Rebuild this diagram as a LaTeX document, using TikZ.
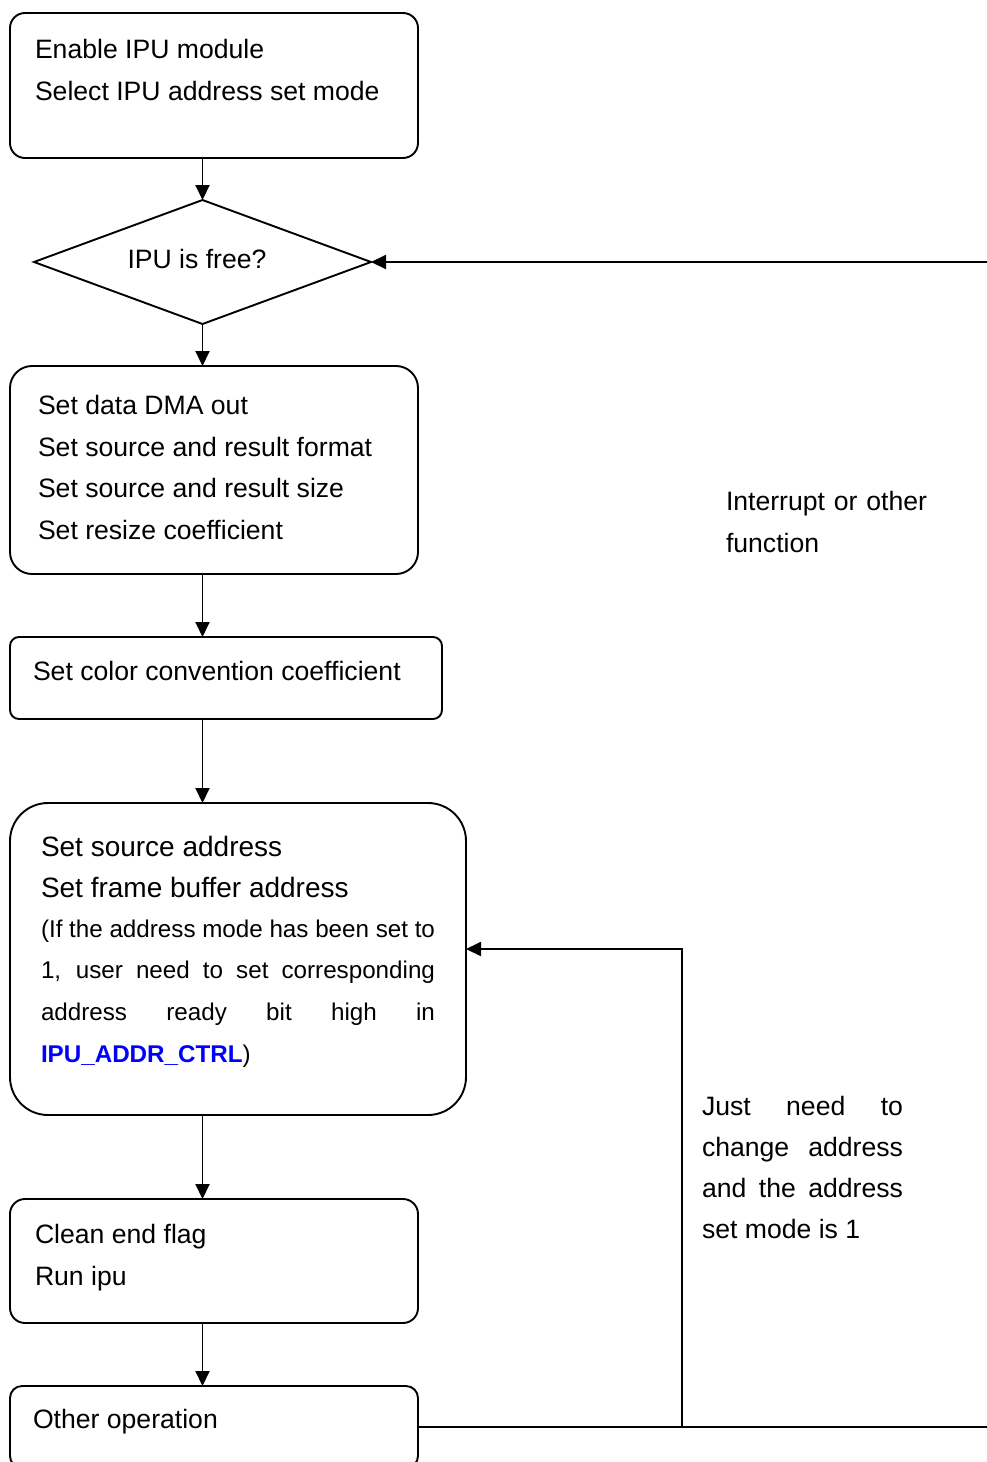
\documentclass[tikz,border=0pt]{standalone}
\usepackage{fontspec}
\setmainfont{Liberation Sans}
\usetikzlibrary{arrows.meta,shapes.geometric}
\definecolor{regblue}{RGB}{0,0,255}
\begin{document}
\begin{tikzpicture}[x=1pt,y=-1pt,
  box/.style={draw, line width=1.9pt, rectangle, anchor=north west, inner sep=0pt, outer sep=0pt},
  flow/.style={line width=1.9pt, -{Triangle[length=15pt,width=14pt]}},
  plain/.style={line width=1.9pt},
  txt/.style={anchor=base west, inner sep=0pt, outer sep=0pt, font=\fontsize{26.6}{41.7}\selectfont},
  big/.style={anchor=base west, inner sep=0pt, outer sep=0pt, font=\fontsize{28}{41}\selectfont},
  para/.style={anchor=base west, inner sep=0pt, outer sep=0pt, align=justify}
]
\clip (0,0) rectangle (987,1462);
\fill[white] (0,0) rectangle (987,1462);

% boxes
\node[box, rounded corners=15pt, minimum width=408pt, minimum height=145pt] (b1) at (10,13) {};
\node[draw, line width=1.9pt, diamond, aspect=2.72, minimum width=337pt, minimum height=124pt, inner sep=0pt, outer sep=0pt] (d1) at (202.5,262) {};
\node[txt, anchor=center] (d1t) at (197,259) {IPU is free?};
\node[box, rounded corners=22pt, minimum width=408pt, minimum height=208pt] (b2) at (10,366) {};
\node[box, rounded corners=9pt, minimum width=432pt, minimum height=82pt] (b3) at (10,637) {};
\node[box, rounded corners=38pt, minimum width=456pt, minimum height=312pt] (b4) at (10,803) {};
\node[box, rounded corners=15pt, minimum width=408pt, minimum height=124pt] (b5) at (10,1199) {};
\node[box, rounded corners=12pt, minimum width=408pt, minimum height=82pt] (b6) at (10,1386) {};

% texts
\node[txt] (t1a) at (35,58) {Enable IPU module};
\node[txt] (t1b) at (35,100) {Select IPU address set mode};

\node[txt] (t2a) at (38,414) {Set data DMA out};
\node[txt] (t2b) at (38,456) {Set source and result format};
\node[txt] (t2c) at (38,497) {Set source and result size};
\node[txt] (t2d) at (38,539) {Set resize coefficient};

\node[txt] (t3) at (33,680) {Set color convention coefficient};

\node[big] (t4a) at (41,856) {Set source address};
\node[big] (t4b) at (41,897) {Set frame buffer address};
\node[para, text width=394pt, font=\fontsize{24.2}{41.7}\selectfont] (t4c) at (41,937)
  {\hyphenpenalty=10000\exhyphenpenalty=10000(If the address mode has been set to\linebreak
   1, user need to set corresponding\linebreak
   address ready bit high in\linebreak
   {\color{regblue}\bfseries IPU\_ADDR\_CTRL})};

\node[txt] (t5a) at (35,1243) {Clean end flag};
\node[txt] (t5b) at (35,1285) {Run ipu};

\node[txt] (t6) at (33,1428) {Other operation};

\node[para, text width=210pt, align=left, font=\fontsize{26.6}{42.5}\selectfont] (n1) at (726,510)
  {Interrupt or other\\function};
\node[para, text width=201pt, font=\fontsize{26.6}{41}\selectfont] (n2) at (702,1115)
  {\hyphenpenalty=10000 Just need to\linebreak change address\linebreak and the address\linebreak set mode is 1};

% connectors
\coordinate (r1) at (987,262);
\coordinate (r2) at (987,1427);
\coordinate (j) at (682,1427);

\draw[flow] (d1.north |- b1.south) -- (d1.north);
\draw[flow] (d1.south) -- (d1.south |- b2.north);
\draw[flow] (d1.south |- b2.south) -- (d1.south |- b3.north);
\draw[flow] (d1.south |- b3.south) -- (d1.south |- b4.north);
\draw[flow] (d1.south |- b4.south) -- (d1.south |- b5.north);
\draw[flow] (d1.south |- b5.south) -- (d1.south |- b6.north);
\draw[flow] (r1) -- (d1.east);
\draw[plain] (b6.east) -- (r2);
\draw[flow] (j) |- ([yshift=10pt]b4.east);
\end{tikzpicture}
\end{document}
